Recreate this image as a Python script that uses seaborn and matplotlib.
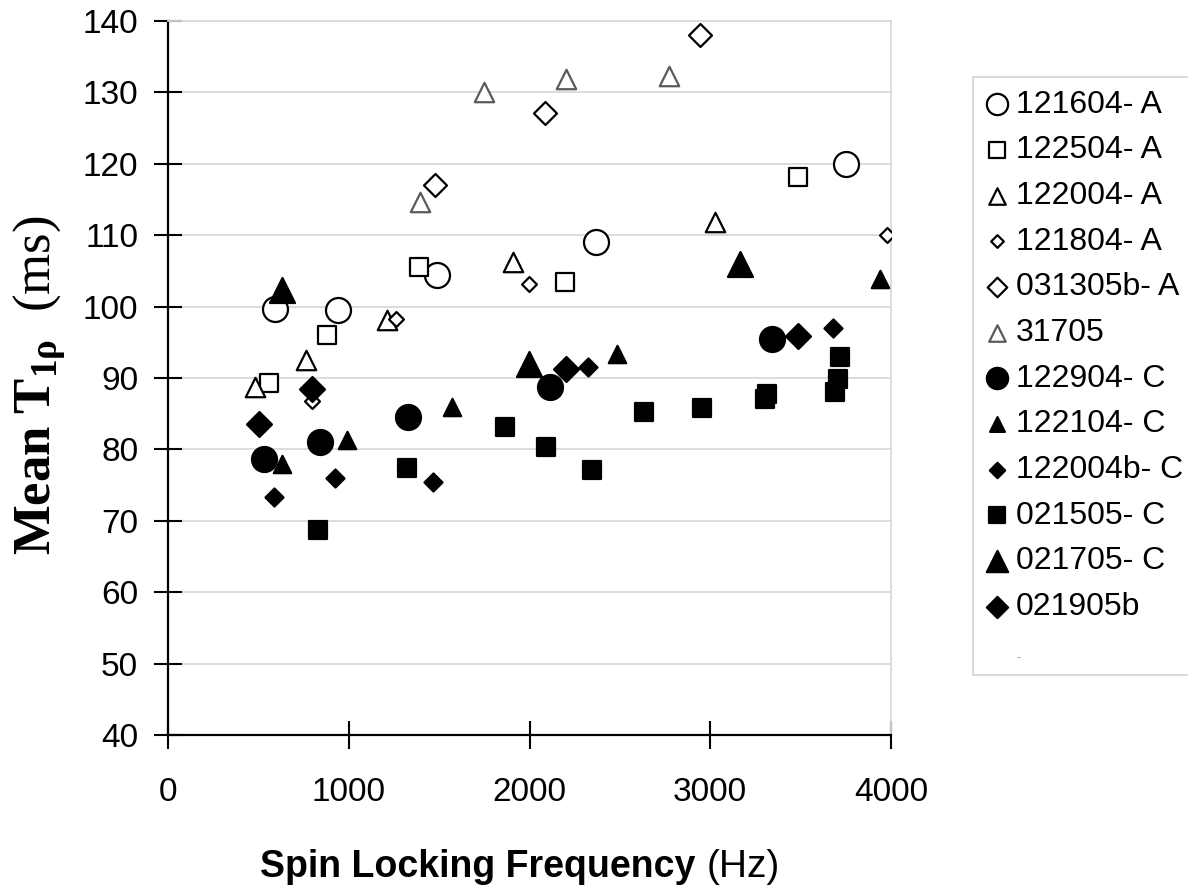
import matplotlib
matplotlib.use('Agg')
import matplotlib.pyplot as plt
import seaborn as sns
import pandas as pd

# Datos (frecuencia en Hz, T1rho medio en ms)
series = ['121604- A', '122504- A', '122004- A', '121804- A', '031305b- A', '31705',
          '122904- C', '122104- C', '122004b- C', '021505- C', '021705- C', '021905b']

x_121604A = [591, 943, 1490, 2370, 3751]
y_121604A = [99.7, 99.5, 104.4, 109.0, 120.0]
x_122504A = [560, 877, 1389, 2199, 3484]
y_122504A = [89.3, 96.0, 105.5, 103.4, 118.2]
x_122004A = [481, 762, 1214, 1910, 3024]
y_122004A = [88.8, 92.5, 98.1, 106.3, 111.9]
x_121804A = [794, 1260, 1996, 3976]
y_121804A = [86.8, 98.3, 103.2, 110.0]
x_031305bA = [1477, 2088, 2946]
y_031305bA = [117.1, 127.1, 138.0]
x_31705 = [1392, 1750, 2204, 2773]
y_31705 = [114.7, 130.0, 131.9, 132.3]
x_122904C = [532, 842, 1330, 2112, 3344]
y_122904C = [78.7, 81.1, 84.6, 88.8, 95.4]
x_122104C = [628, 989, 1569, 2484, 3939]
y_122104C = [78.0, 81.3, 86.0, 93.3, 103.9]
x_122004bC = [587, 924, 1468, 2324, 3681]
y_122004bC = [73.4, 76.0, 75.4, 91.6, 97.0]
x_021505C = [832, 1320, 1864, 2092, 2346, 2632, 2954, 3304, 3313, 3691, 3705, 3718]
y_021505C = [68.7, 77.4, 83.2, 80.3, 77.1, 85.3, 85.8, 87.1, 87.8, 88.0, 89.8, 92.9]
x_021705C = [630, 1996, 3162]
y_021705C = [102.3, 92.0, 106.0]
x_021905b = [501, 794, 2204, 3488]
y_021905b = [83.5, 88.5, 91.2, 95.9]

xs = [x_121604A, x_122504A, x_122004A, x_121804A, x_031305bA, x_31705,
      x_122904C, x_122104C, x_122004bC, x_021505C, x_021705C, x_021905b]
ys = [y_121604A, y_122504A, y_122004A, y_121804A, y_031305bA, y_31705,
      y_122904C, y_122104C, y_122004bC, y_021505C, y_021705C, y_021905b]

xticks = [0, 1000, 2000, 3000, 4000]
yticks = [40, 50, 60, 70, 80, 90, 100, 110, 120, 130, 140]

# estilo de cada serie: marcador, tamano (pt), relleno, borde
estilos = [
    ('o', 18, 'white', 'black'),
    ('s', 13, 'white', 'black'),
    ('^', 14, 'white', 'black'),
    ('D', 7.6, 'white', 'black'),
    ('D', 11.7, 'white', 'black'),
    ('^', 14, 'white', '#5a5a5a'),
    ('o', 18, 'black', 'black'),
    ('^', 12.5, 'black', 'black'),
    ('D', 9.2, 'black', 'black'),
    ('s', 13.5, 'black', 'black'),
    ('^', 18, 'black', 'black'),
    ('D', 12.7, 'black', 'black'),
]

filas = []
for nombre, xv, yv in zip(series, xs, ys):
    for a, b in zip(xv, yv):
        filas.append({'serie': nombre, 'freq': a, 't1rho': b})
df = pd.DataFrame(filas)

sns.set_style('white')
plt.rcParams['font.family'] = ['Liberation Sans', 'DejaVu Sans']
plt.rcParams['text.color'] = 'black'
plt.rcParams['axes.labelcolor'] = 'black'
plt.rcParams['xtick.color'] = 'black'
plt.rcParams['ytick.color'] = 'black'
plt.rcParams['mathtext.fontset'] = 'custom'
plt.rcParams['mathtext.rm'] = 'Liberation Serif'
plt.rcParams['mathtext.bf'] = 'Liberation Serif:bold'
plt.rcParams['mathtext.it'] = 'Liberation Serif:italic'

fig = plt.figure(figsize=(11.88, 8.88), dpi=100)
ax = fig.add_axes([168 / 1188, 1 - 735 / 888, (891 - 168) / 1188, (735 - 21) / 888])

for nombre, (mk, ms, fc, ec) in zip(series, estilos):
    d = df[df['serie'] == nombre]
    sns.scatterplot(data=d, x='freq', y='t1rho', ax=ax, marker=mk, s=ms ** 2,
                    color=fc, edgecolor=ec, linewidth=1.6, label=nombre,
                    legend=False, zorder=3)

ax.set_xlim(0, 4000)
ax.set_ylim(40, 140)
ax.set_xticks(xticks)
ax.set_yticks(yticks)
ax.yaxis.grid(True, color='#d9d9d9', linewidth=1.3)
ax.xaxis.grid(False)
for lado in ['top', 'right']:
    ax.spines[lado].set_color('#d9d9d9')
    ax.spines[lado].set_linewidth(1.3)
for lado in ['left', 'bottom']:
    ax.spines[lado].set_color('black')
    ax.spines[lado].set_linewidth(1.6)
ax.tick_params(axis='both', direction='inout', length=20, width=1.5,
               color='black', labelsize=24, left=True, bottom=True)
ax.tick_params(axis='x', pad=20)
ax.tick_params(axis='y', pad=11.5)

ax.set_xlabel('')
ax.set_ylabel(r'$\mathbf{Mean\ T_{1\rho}}$  (ms)', fontfamily='Liberation Serif',
              fontsize=38)
ax.yaxis.set_label_coords((68 - 168) / 723, 0.49)

fig.text(695 / 1188, 1 - 877 / 888, 'Spin Locking Frequency', ha='right',
         va='baseline', fontsize=27, fontweight='bold')
fig.text(707 / 1188, 1 - 877 / 888, '(Hz)', ha='left', va='baseline', fontsize=28)

handles, labels = ax.get_legend_handles_labels()
extra = plt.Line2D([], [], linestyle='none', marker=None)
leg = fig.legend(handles + [extra], labels + ['-'], loc='upper left',
                 bbox_to_anchor=(973 / 1188, 1 - 77 / 888), frameon=True,
                 fancybox=False, edgecolor='#c8c8c8', fontsize=23,
                 markerscale=0.85, handlelength=0.7, handletextpad=0.25,
                 labelspacing=0.49, borderpad=0.4, borderaxespad=0)
leg.get_frame().set_linewidth(1.2)
leg.get_texts()[-1].set_fontsize(8)
leg.get_texts()[-1].set_color('#888888')

fig.savefig('out.png', dpi=100)
